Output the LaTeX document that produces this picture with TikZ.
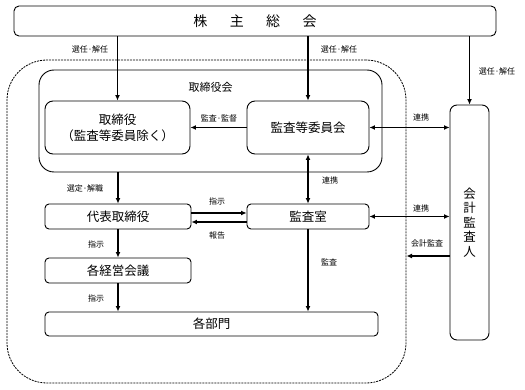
\documentclass[tikz,border=0pt]{standalone}
\usepackage{fontspec}
\setmainfont{Noto Sans CJK JP}
\usetikzlibrary{arrows.meta,calc}
\begin{document}
\begin{tikzpicture}[x=1pt,y=-1pt,
  box/.style={draw,line width=0.9pt,rounded corners=#1,inner sep=0pt,align=center,font=\fontsize{12.5}{16}\selectfont},
  box/.default=6pt,
  arr/.style={line width=1.7pt,-{Latex[length=5.5pt,width=5pt]}},
  darr/.style={line width=1.7pt,{Latex[length=5.5pt,width=5pt]}-{Latex[length=5.5pt,width=5pt]}},
  lbl/.style={font=\fontsize{8}{9}\selectfont,inner sep=0pt}]
\useasboundingbox (0,0) rectangle (525,390);
% shareholders meeting
\node[box=5pt,minimum width=482pt,minimum height=30pt,font=\fontsize{14}{16}\selectfont] (sh) at (255,21) {株\hspace{1.6em}主\hspace{1.6em}総\hspace{1.6em}会};
% dashed group
\node[draw,dash pattern=on 2pt off 1pt,line width=0.8pt,rounded corners=40pt,minimum width=399pt,minimum height=323pt,inner sep=0pt] (grp) at (206.5,221.5) {};
% board
\node[box=15pt,minimum width=343pt,minimum height=102pt] (bod) at (210.5,121) {};
\node[font=\fontsize{11}{13}\selectfont,inner sep=0pt] (bodl) at (210.5,87) {取締役会};
\node[box=8pt,minimum width=145pt,minimum height=53pt] (dir) at (117.5,127.5) {取締役\\（監査等委員除く）};
\node[box=8pt,minimum width=122pt,minimum height=53pt] (ac) at (308,127.5) {監査等委員会};
\node[box=4pt,minimum width=146pt,minimum height=25pt] (rep) at (118,216.5) {代表取締役};
\node[box=4pt,minimum width=122pt,minimum height=25pt] (aud) at (308,216.5) {監査室};
\node[box=4pt,minimum width=146pt,minimum height=25pt] (mtg) at (118,270.5) {各経営会議};
\node[box=4pt,minimum width=333pt,minimum height=24pt] (dept) at (211.5,324) {各部門};
\node[box=7pt,minimum width=39pt,minimum height=235pt,font=\fontsize{12.5}{14.5}\selectfont] (ext) at (469.5,222.5) {会\\計\\監\\査\\人};
% arrows from shareholders
\draw[arr] (sh.south -| dir) -- (dir.north);
\node[lbl] (l1) at (90,49) {選任·解任};
\draw[arr] (sh.south -| ac) -- (ac.north);
\node[lbl] (l2) at (339,49) {選任·解任};
\draw[arr] (sh.south -| ext) -- (ext.north);
\node[lbl] (l3) at (497,71) {選任·解任};
% within board
\draw[arr] (ac.west) -- (dir.east);
\node[lbl] (l4) at (219,118) {監査·監督};
\draw[darr] (ac.east) -- (ac.east -| ext.west);
\node[lbl] (l5) at (421,117) {連携};
\draw[darr] (ac.south) -- (aud.north);
\node[lbl] (l6) at (330,180) {連携};
\draw[arr] (bod.south -| rep) -- (rep.north);
\node[lbl] (l7) at (85,188) {選定·解職};
% rep and audit office
\coordinate (r1) at ($(rep.east)+(0,-3.5)$);
\coordinate (r2) at ($(rep.east)+(0,5.5)$);
\draw[arr] (r1) -- (r1 -| aud.west);
\node[lbl] (l8) at (217,201) {指示};
\draw[arr] (r2 -| aud.west) -- (r2);
\node[lbl] (l9) at (217,235) {報告};
\draw[darr] (aud.east) -- (aud.east -| ext.west);
\node[lbl] (l10) at (421,208) {連携};
\coordinate (g1) at (406.5,256);
\draw[arr] (g1 -| ext.west) -- (g1);
\node[lbl] (l11) at (427,243) {会計監査};
% downward
\draw[arr] (rep.south) -- (mtg.north);
\node[lbl] (l12) at (96,244) {指示};
\draw[arr] (mtg.south) -- (mtg.south |- dept.north);
\node[lbl] (l13) at (96,298) {指示};
\draw[arr] (aud.south) -- (aud.south |- dept.north);
\node[lbl] (l14) at (329,262) {監査};
\end{tikzpicture}
\end{document}
